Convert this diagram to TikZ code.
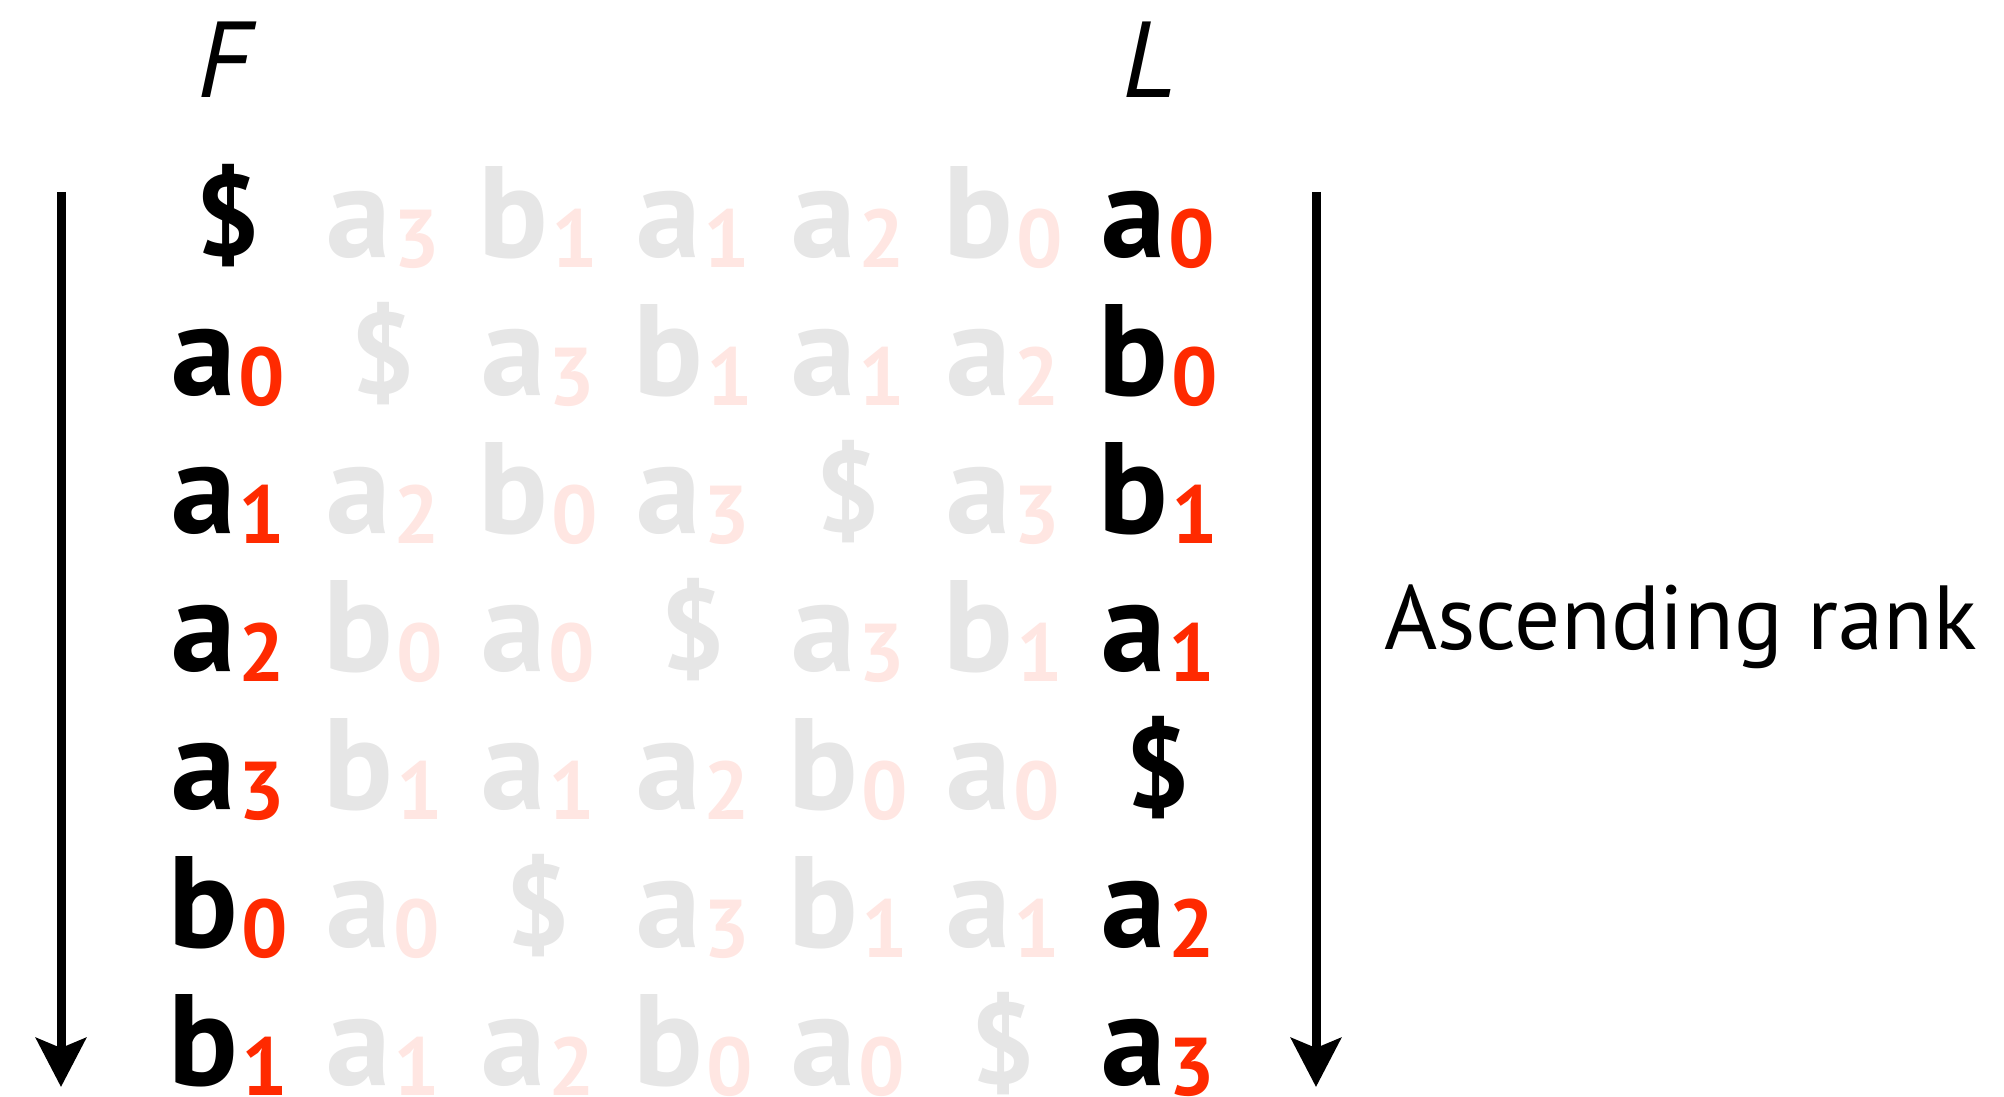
\documentclass[tikz,border=0pt]{standalone}
\usepackage{fontspec}
\setmainfont{PT Sans}
\usetikzlibrary{arrows.meta}

\definecolor{inkred}{HTML}{FF2A00}
\definecolor{fadegrey}{HTML}{E6E6E6}
\definecolor{fadepink}{HTML}{FFE6E2}

% symbol with a lowered index digit
\newcommand\symfont{\fontsize{65}{65}\selectfont\bfseries}
\newcommand\idxfont{\fontsize{41}{41}\selectfont\bfseries}
\newcommand\dollarsym{\raisebox{1pt}{\fontsize{57}{57}\selectfont\bfseries\$}}
\newcommand\pairglyph[4]{{\color{#3}#1}\ifx\relax#2\relax\else\kern1.5pt\raisebox{-5pt}{\idxfont\color{#4}#2}\fi}
\newcommand\keysym[2]{\pairglyph{#1}{#2}{black}{inkred}}
\newcommand\fadesym[2]{\pairglyph{#1}{#2}{fadegrey}{fadepink}}

\tikzset{
  cell/.style={anchor=base, inner sep=0pt, font=\symfont},
  head/.style={anchor=base, inner sep=0pt, font=\fontsize{54}{54}\selectfont\itshape},
  rankarrow/.style={line width=4.5pt, -{Stealth[length=24.5pt, width=25pt, inset=5pt]}},
}

\begin{document}
\begin{tikzpicture}[x=0.5pt, y=-0.5pt]
\useasboundingbox (0,0) rectangle (2004,1097);

% column headings
\node[head] (fhead) at (224,98) {F};
\node[head] (lhead) at (1149,98) {L};

% row 0
\node[cell] (r0c0) at (228,257)  {\keysym{\dollarsym}{}};
\node[cell] (r0c1) at (383,257)  {\fadesym{a}{3}};
\node[cell] (r0c2) at (538,257)  {\fadesym{b}{1}};
\node[cell] (r0c3) at (693,257)  {\fadesym{a}{1}};
\node[cell] (r0c4) at (848,257)  {\fadesym{a}{2}};
\node[cell] (r0c5) at (1003,257) {\fadesym{b}{0}};
\node[cell] (r0c6) at (1158,257) {\keysym{a}{0}};
% row 1
\node[cell] (r1c0) at (228,395)  {\keysym{a}{0}};
\node[cell] (r1c1) at (383,395)  {\fadesym{\dollarsym}{}};
\node[cell] (r1c2) at (538,395)  {\fadesym{a}{3}};
\node[cell] (r1c3) at (693,395)  {\fadesym{b}{1}};
\node[cell] (r1c4) at (848,395)  {\fadesym{a}{1}};
\node[cell] (r1c5) at (1003,395) {\fadesym{a}{2}};
\node[cell] (r1c6) at (1158,395) {\keysym{b}{0}};
% row 2
\node[cell] (r2c0) at (228,533)  {\keysym{a}{1}};
\node[cell] (r2c1) at (383,533)  {\fadesym{a}{2}};
\node[cell] (r2c2) at (538,533)  {\fadesym{b}{0}};
\node[cell] (r2c3) at (693,533)  {\fadesym{a}{3}};
\node[cell] (r2c4) at (848,533)  {\fadesym{\dollarsym}{}};
\node[cell] (r2c5) at (1003,533) {\fadesym{a}{3}};
\node[cell] (r2c6) at (1158,533) {\keysym{b}{1}};
% row 3
\node[cell] (r3c0) at (228,671)  {\keysym{a}{2}};
\node[cell] (r3c1) at (383,671)  {\fadesym{b}{0}};
\node[cell] (r3c2) at (538,671)  {\fadesym{a}{0}};
\node[cell] (r3c3) at (693,671)  {\fadesym{\dollarsym}{}};
\node[cell] (r3c4) at (848,671)  {\fadesym{a}{3}};
\node[cell] (r3c5) at (1003,671) {\fadesym{b}{1}};
\node[cell] (r3c6) at (1158,671) {\keysym{a}{1}};
% row 4
\node[cell] (r4c0) at (228,809)  {\keysym{a}{3}};
\node[cell] (r4c1) at (383,809)  {\fadesym{b}{1}};
\node[cell] (r4c2) at (538,809)  {\fadesym{a}{1}};
\node[cell] (r4c3) at (693,809)  {\fadesym{a}{2}};
\node[cell] (r4c4) at (848,809)  {\fadesym{b}{0}};
\node[cell] (r4c5) at (1003,809) {\fadesym{a}{0}};
\node[cell] (r4c6) at (1158,809) {\keysym{\dollarsym}{}};
% row 5
\node[cell] (r5c0) at (228,947)  {\keysym{b}{0}};
\node[cell] (r5c1) at (383,947)  {\fadesym{a}{0}};
\node[cell] (r5c2) at (538,947)  {\fadesym{\dollarsym}{}};
\node[cell] (r5c3) at (693,947)  {\fadesym{a}{3}};
\node[cell] (r5c4) at (848,947)  {\fadesym{b}{1}};
\node[cell] (r5c5) at (1003,947) {\fadesym{a}{1}};
\node[cell] (r5c6) at (1158,947) {\keysym{a}{2}};
% row 6
\node[cell] (r6c0) at (228,1085)  {\keysym{b}{1}};
\node[cell] (r6c1) at (383,1085)  {\fadesym{a}{1}};
\node[cell] (r6c2) at (538,1085)  {\fadesym{a}{2}};
\node[cell] (r6c3) at (693,1085)  {\fadesym{b}{0}};
\node[cell] (r6c4) at (848,1085)  {\fadesym{a}{0}};
\node[cell] (r6c5) at (1003,1085) {\fadesym{\dollarsym}{}};
\node[cell] (r6c6) at (1158,1085) {\keysym{a}{3}};

% rank arrows
\coordinate (ltop) at (61,192);
\coordinate (lbot) at (61,1087);
\coordinate (rtop) at (1316,192);
\coordinate (rbot) at (1316,1087);
\draw[rankarrow] (ltop) -- (lbot);
\draw[rankarrow] (rtop) -- (rbot);

\node[anchor=base west, inner sep=0pt, font=\fontsize{45.5}{45.5}\selectfont] (ranklab) at (1384,649) {Ascending rank};
\end{tikzpicture}
\end{document}
